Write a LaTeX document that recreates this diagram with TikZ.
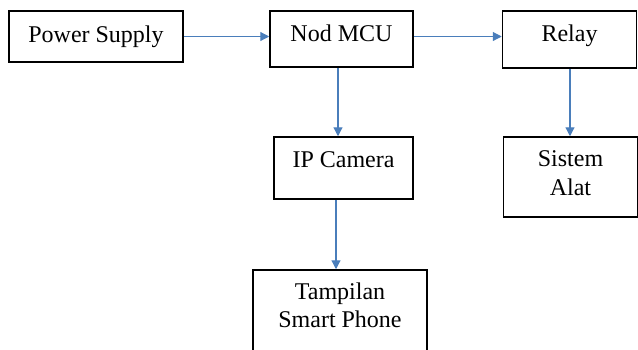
\documentclass[tikz,border=0pt]{standalone}
\usepackage{fontspec}
\setmainfont{Liberation Serif}
\usetikzlibrary{arrows.meta}
\definecolor{arrowblue}{HTML}{4A7EBB}
\begin{document}
\begin{tikzpicture}[x=0.5pt,y=-0.5pt,
  box/.style={draw=black, line width=0.75pt, inner sep=0pt, align=center,
              font=\fontsize{12}{14.4}\selectfont},
  conn/.style={draw=arrowblue, line width=0.6pt,
               -{Triangle[length=4.5pt,width=4.5pt]}}]
\useasboundingbox (0,0) rectangle (638,349);
\clip (0,0) rectangle (638,349);
\node[box, minimum width=87pt, minimum height=25.5pt] (ps) at (96,36.5) {Power Supply};
\node[box, minimum width=71.5pt, minimum height=28pt, text depth=6.2pt] (mcu) at (341.5,39) {Nod MCU};
\node[box, minimum width=67pt, minimum height=28.5pt, text depth=6.7pt] (relay) at (569.5,39.5) {Relay};
\node[box, minimum width=69.5pt, minimum height=31pt, text depth=8pt] (ip) at (343.5,168) {IP Camera};
\node[box, minimum width=67pt, minimum height=40pt, text depth=4.1pt] (sistem) at (570.5,177) {Sistem\\Alat};
\node[box, minimum width=87pt, minimum height=41pt, text depth=5.8pt] (tamp) at (340,311) {Tampilan\\Smart Phone};
\draw[conn] (ps.east) -- (ps.east -| mcu.west);
\draw[conn] (mcu.east |- ps.east) -- (relay.west |- ps.east);
\draw[conn] ([xshift=-1.75pt]mcu.south) -- ([xshift=-1.75pt]mcu.south |- ip.north);
\draw[conn] ([xshift=0.25pt]relay.south) -- ([xshift=0.25pt]relay.south |- sistem.north);
\draw[conn] ([xshift=-3.75pt]ip.south) -- ([xshift=-3.75pt]ip.south |- tamp.north);
\end{tikzpicture}
\end{document}
